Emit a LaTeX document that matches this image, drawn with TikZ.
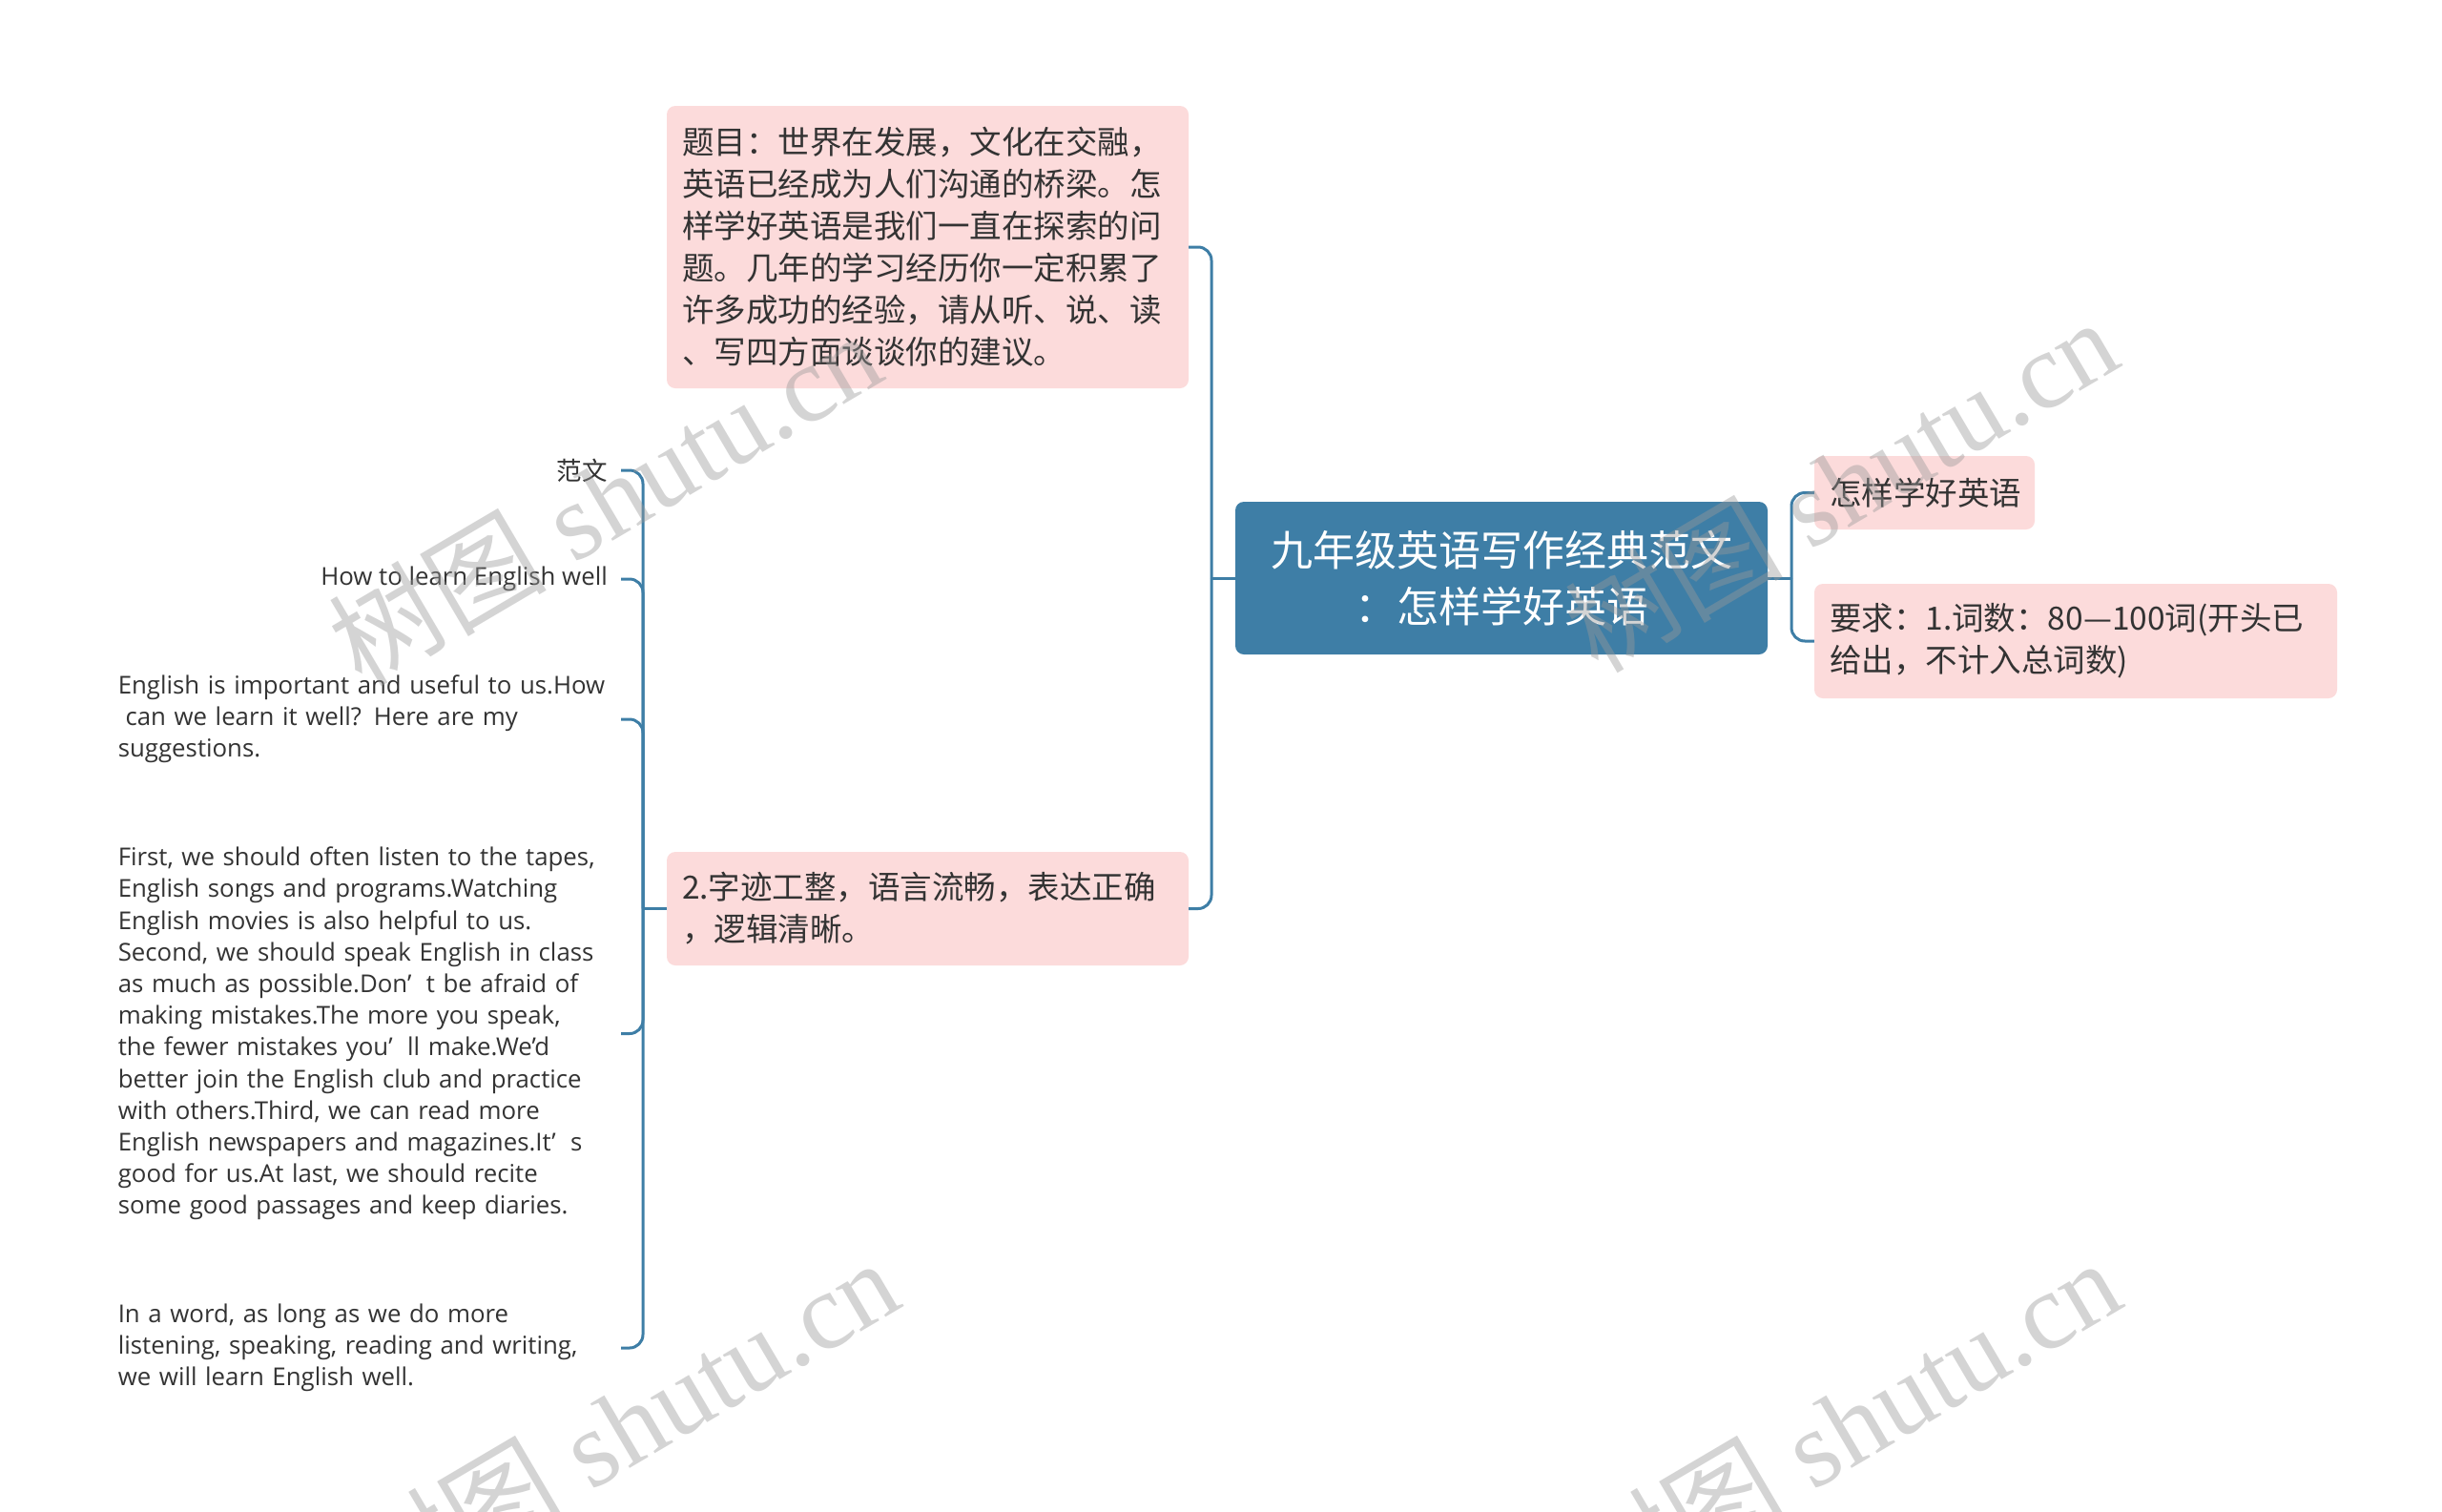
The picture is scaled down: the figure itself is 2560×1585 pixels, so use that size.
\documentclass[tikz,border=0pt]{standalone}
\usepackage{fontspec}
\setmainfont{Open Sans}
\newfontfamily\cjk{Noto Sans CJK SC}
\newfontfamily\wmserif{Liberation Serif}
\definecolor{boxpink}{HTML}{FCDBDB}
\definecolor{rootblue}{HTML}{3E7EA6}
\definecolor{linkblue}{HTML}{3E7EA6}
\definecolor{textdark}{HTML}{333333}
\begin{document}
\begin{tikzpicture}[x=1pt,y=-1pt,
  pinkbox/.style={fill=boxpink, rounded corners=9pt, inner xsep=16pt, inner ysep=0pt,
    align=left, text=textdark, font=\cjk\fontsize{33.5}{44}\selectfont},
  rootbox/.style={fill=rootblue, rounded corners=9pt, inner xsep=16pt, inner ysep=0pt,
    align=center, text=white, font=\cjk\fontsize{44}{59}\selectfont},
  lefttext/.style={inner sep=0pt, align=left, text=textdark, font=\fontsize{25.8}{33.2}\selectfont},
  conn/.style={draw=linkblue, line width=3pt, rounded corners=14pt},
  wm/.style={text=black!40, opacity=0.42, font=\fontsize{114}{114}\selectfont}
]
\useasboundingbox (0,0) rectangle (2560,1585);
\fill[white] (0,0) rectangle (2560,1585);

% root
\node[rootbox, text width=526pt, minimum height=160pt] (root) at (1574,606)
  {九年级英语写作经典范文\\：怎样学好英语};

% middle boxes
\node[pinkbox, text width=515pt, minimum height=296pt] (q) at (972.5,259)
  {题目：世界在发展，文化在交融，\\英语已经成为人们沟通的桥梁。怎\\样学好英语是我们一直在探索的问\\题。几年的学习经历你一定积累了\\许多成功的经验，请从听、说、读\\、写四方面谈谈你的建议。};
\node[pinkbox, text width=515pt, minimum height=119pt] (req2) at (972.5,952.5)
  {2.字迹工整，语言流畅，表达正确\\，逻辑清晰。};

% right boxes
\node[pinkbox, text width=199pt, minimum height=77pt] (r1) at (2017.5,516.5) {怎样学好英语};
\node[pinkbox, text width=516pt, minimum height=120pt] (r2) at (2176,672)
  {要求：1.词数：80—100词(开头已\\给出，不计入总词数)};

% left texts
\node[lefttext, anchor=east, font=\cjk\fontsize{26.5}{33.2}\selectfont] (fw) at (637,493) {范文};
\node[lefttext, anchor=east] (how) at (637,607) {How to learn English well};
\node[lefttext, text width=513pt, anchor=east] (p1) at (637,754)
  {English is important and useful to us.How\\\hspace*{0.3em}can we learn it well? Here are my\\suggestions.};
\node[lefttext, text width=513pt, anchor=east] (p2) at (637,1083.5)
  {First, we should often listen to the tapes,\\English songs and programs.Watching\\English movies is also helpful to us.\\Second, we should speak English in class\\as much as possible.Don’\hspace{0.6em}t be afraid of\\making mistakes.The more you speak,\\the fewer mistakes you’\hspace{0.6em}ll make.We'd\\better join the English club and practice\\with others.Third, we can read more\\English newspapers and magazines.It’\hspace{0.6em}s\\good for us.At last, we should recite\\some good passages and keep diaries.};
\node[lefttext, text width=513pt, anchor=east] (p3) at (637,1413)
  {In a word, as long as we do more\\listening, speaking, reading and writing,\\we will learn English well.};

% junctions
\coordinate (jm) at (1270,606);
\coordinate (jl) at (674,952.5);
\coordinate (jr) at (1878,606);

% connectors
\draw[conn] (root.west) -- (jm);
\draw[conn] (jm) |- (q.east);
\draw[conn] (jm) |- (req2.east);
\draw[conn] (root.east) -- (jr);
\draw[conn] (jr) |- (r1.west);
\draw[conn] (jr) |- (r2.west);
\draw[conn] (req2.west) -- (jl);
\draw[conn] (jl) |- ([xshift=14pt]fw.east);
\draw[conn] (jl) |- ([xshift=14pt]how.east);
\draw[conn] (jl) |- ([xshift=14pt]p1.east);
\draw[conn] (jl) |- ([xshift=14pt]p2.east);
\draw[conn] (jl) |- ([xshift=14pt]p3.east);

% watermarks
\node[wm, rotate=30.5] (wm1) at (634,522) {{\cjk 树图} {\wmserif shutu.cn}};
\node[wm, rotate=30.5] (wm2) at (1930,508) {{\cjk 树图} {\wmserif shutu.cn}};
\node[wm, rotate=30.5] (wm3) at (652,1494) {{\cjk 树图} {\wmserif shutu.cn}};
\node[wm, rotate=30.5] (wm4) at (1933,1494) {{\cjk 树图} {\wmserif shutu.cn}};
\end{tikzpicture}
\end{document}
